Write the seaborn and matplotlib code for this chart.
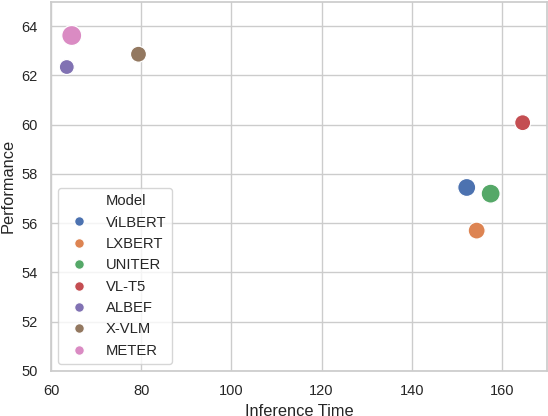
import matplotlib
matplotlib.use("Agg")
import matplotlib.pyplot as plt
import seaborn as sns
import pandas as pd

# datos
models = ["ViLBERT", "LXBERT", "UNITER", "VL-T5", "ALBEF", "X-VLM", "METER"]
inference_time = [152.2, 154.4, 157.5, 164.6, 63.5, 79.4, 64.6]
performance = [57.45, 55.7, 57.2, 60.08, 62.34, 62.86, 63.62]
marker_size = [168, 150, 187, 133, 117, 133, 207]

datos = pd.DataFrame({"Model": models, "Inference Time": inference_time,
                      "Performance": performance, "Size": marker_size})

sns.set_theme(style="whitegrid")  # estilo de la grafica
plt.rcParams["font.family"] = ["Liberation Sans", "DejaVu Sans"]
plt.rcParams["xtick.labelsize"] = 10.5
plt.rcParams["ytick.labelsize"] = 10.5
plt.rcParams["axes.labelsize"] = 11.8

fig = plt.figure(figsize=(5.48, 4.16), dpi=100)
ax = fig.add_axes([51 / 548, 45 / 416, 496 / 548, 369.5 / 416])

sns.scatterplot(x="Inference Time", y="Performance", data=datos, hue="Model",
                size="Size", sizes={v: v for v in marker_size}, ax=ax)

# solo la parte de colores de la leyenda (incluye el subtitulo "Model")
handles, labels = ax.get_legend_handles_labels()
for h in handles[1:8]:
    h.set_markersize(7)
ax.legend(handles[:8], labels[:8], loc="lower left", fontsize=10.6)

ax.set_xlim(60, 170)
ax.set_ylim(50, 65)
ax.set_xticks([60, 80, 100, 120, 140, 160])
ax.set_yticks([50, 52, 54, 56, 58, 60, 62, 64])

fig.savefig("out.png", dpi=100)
